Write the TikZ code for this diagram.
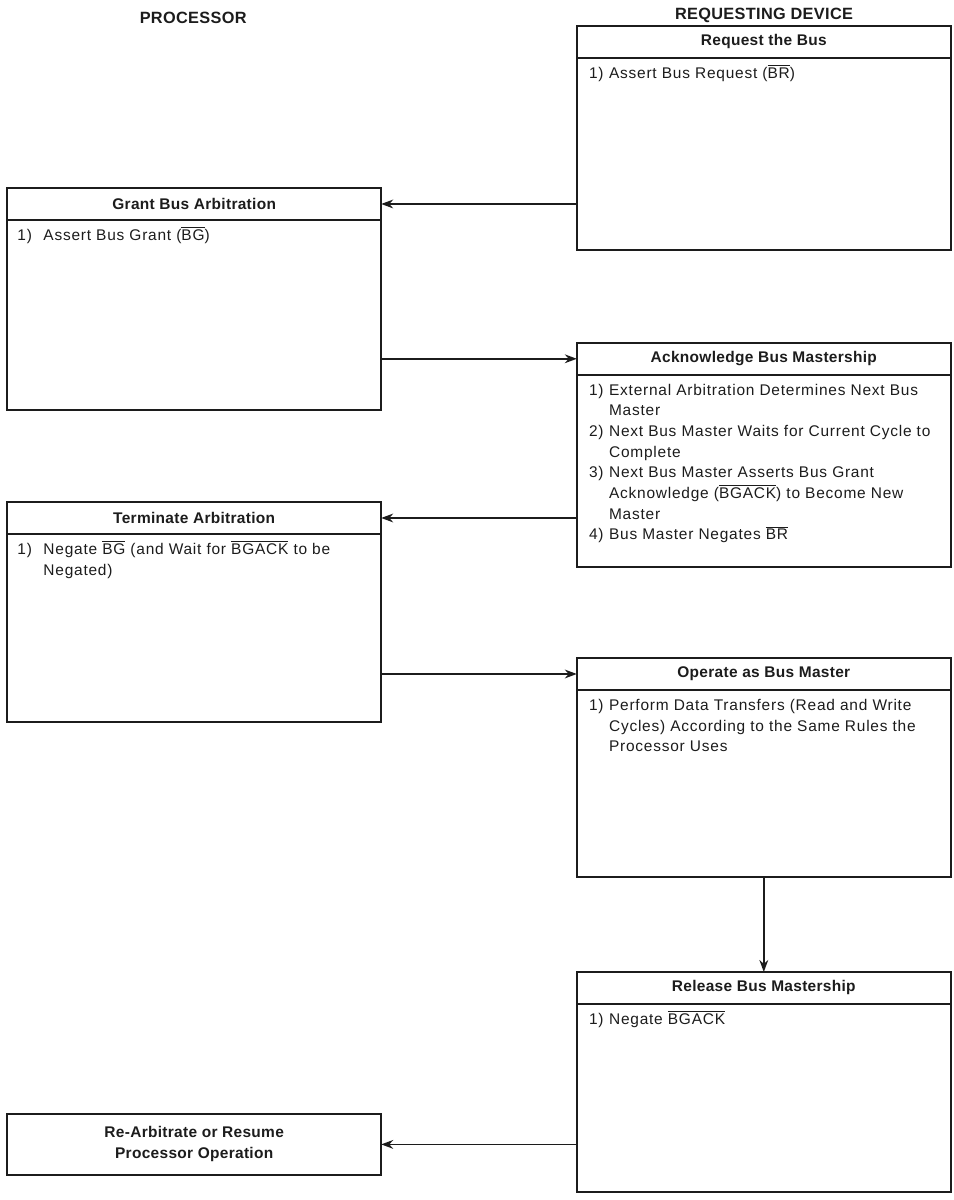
\documentclass[tikz,border=0pt]{standalone}
\usepackage{fontspec}
\setmainfont{Liberation Sans}
\newfontfamily\bodyfont{Liberation Sans}[LetterSpace=5]
\newfontfamily\headfont{Liberation Sans}[LetterSpace=2]
\usetikzlibrary{arrows.meta,calc,positioning}
\definecolor{bmink}{HTML}{1C1C1C}
\newcommand\ovl[1]{$\overline{\hbox{#1}}$}
\tikzset{
  bm text/.style={text=bmink},
  bm box/.style={draw=bmink, line width=1.2pt, minimum width=9.35cm, anchor=north west,
    inner sep=0pt, outer sep=0pt},
  bm head/.style={draw=bmink, line width=1.2pt, minimum width=9.35cm, minimum height=0.8cm,
    anchor=north west, inner sep=0pt, outer sep=0pt,
    font=\headfont\bfseries\fontsize{11}{15}\selectfont},
  bm body/.style={anchor=north west, inner sep=0pt, align=left,
    font=\bodyfont\fontsize{11}{14.7}\selectfont},
  bm arrow/.style={-{Stealth[length=3mm,width=2.2mm]}, line width=1.1pt, draw=bmink},
  bm column/.style={font=\headfont\bfseries\fontsize{11.6}{14}\selectfont}
}
\begin{document}
\begin{tikzpicture}[bm text, x=1cm, y=1cm]
  \useasboundingbox (0,0) rectangle (23.85,30);
  \node[bm column] (proc) at (4.83,29.55) {PROCESSOR};
  \node[bm column] (dev) at (19.1,29.62) {REQUESTING DEVICE};

  % requesting device side
  \node[bm box, minimum height=5.6cm] (req) at (14.42,29.35) {};
  \node[bm head] (req-t) at (req.north west) {Request the Bus};
  \node[bm body] (req-b) at ($(req-t.south west)+(0.3,-0.14)$) {\begin{tabular}{@{}p{0.5cm}@{}l@{}}
    1) & Assert Bus Request (\ovl{BR})
  \end{tabular}};

  \node[bm box, minimum height=5.6cm] (ack) at (14.42,21.43) {};
  \node[bm head] (ack-t) at (ack.north west) {Acknowledge Bus Mastership};
  \node[bm body] (ack-b) at ($(ack-t.south west)+(0.3,-0.14)$) {\begin{tabular}{@{}p{0.5cm}@{}l@{}}
    1) & External Arbitration Determines Next Bus\\
       & Master\\
    2) & Next Bus Master Waits for Current Cycle to\\
       & Complete\\
    3) & Next Bus Master Asserts Bus Grant\\
       & Acknowledge (\ovl{BGACK}) to Become New\\
       & Master\\
    4) & Bus Master Negates \ovl{BR}
  \end{tabular}};

  \node[bm box, minimum height=5.47cm] (oper) at (14.42,13.55) {};
  \node[bm head] (oper-t) at (oper.north west) {Operate as Bus Master};
  \node[bm body] (oper-b) at ($(oper-t.south west)+(0.3,-0.14)$) {\begin{tabular}{@{}p{0.5cm}@{}l@{}}
    1) & Perform Data Transfers (Read and Write\\
       & Cycles) According to the Same Rules the\\
       & Processor Uses
  \end{tabular}};

  \node[bm box, minimum height=5.5cm] (rel) at (14.42,5.7) {};
  \node[bm head] (rel-t) at (rel.north west) {Release Bus Mastership};
  \node[bm body] (rel-b) at ($(rel-t.south west)+(0.3,-0.14)$) {\begin{tabular}{@{}p{0.5cm}@{}l@{}}
    1) & Negate \ovl{BGACK}
  \end{tabular}};

  % processor side
  \node[bm box, minimum height=5.55cm] (grant) at (0.18,25.3) {};
  \node[bm head] (grant-t) at (grant.north west) {Grant Bus Arbitration};
  \node[bm body] (grant-b) at ($(grant-t.south west)+(0.25,-0.14)$) {\begin{tabular}{@{}p{0.65cm}@{}l@{}}
    1) & Assert Bus Grant (\ovl{BG})
  \end{tabular}};

  \node[bm box, minimum height=5.5cm] (term) at (0.18,17.45) {};
  \node[bm head] (term-t) at (term.north west) {Terminate Arbitration};
  \node[bm body] (term-b) at ($(term-t.south west)+(0.25,-0.14)$) {\begin{tabular}{@{}p{0.65cm}@{}l@{}}
    1) & Negate \ovl{BG} (and Wait for \ovl{BGACK} to be\\
       & Negated)
  \end{tabular}};

  \node[bm box, minimum height=1.52cm, align=center,
    font=\headfont\bfseries\fontsize{11}{15}\selectfont] (rearb) at (0.18,2.15)
    {Re-Arbitrate or Resume\\Processor Operation};

  % hand-over arrows
  \draw[bm arrow] (req.west |- grant-t) -- (grant-t.east);
  \draw[bm arrow] (grant.east |- ack-t) -- (ack-t.west);
  \draw[bm arrow] (ack.west |- term-t) -- (term-t.east);
  \draw[bm arrow] (term.east |- oper-t) -- (oper-t.west);
  \draw[bm arrow] (oper.south) -- (rel.north);
  \draw[bm arrow] (rel.west |- rearb) -- (rearb.east);
\end{tikzpicture}
\end{document}
